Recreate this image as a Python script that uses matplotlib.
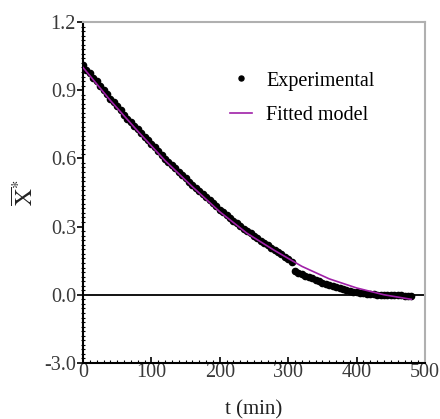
import matplotlib
matplotlib.use("Agg")
import matplotlib.pyplot as plt
from matplotlib.ticker import MultipleLocator

plt.rcParams['font.family'] = ['Liberation Serif', 'DejaVu Serif']
plt.rcParams['mathtext.fontset'] = 'stix'

# Experimental data (t in min, dimensionless X*)
t_exp = list(range(0, 485, 5))
x_exp = [1.01, 0.99, 0.975, 0.955, 0.94, 0.92, 0.90, 0.885, 0.862, 0.848,
         0.83, 0.815, 0.79, 0.772, 0.76, 0.742, 0.728, 0.71, 0.695, 0.68,
         0.665, 0.648, 0.632, 0.615, 0.598, 0.585, 0.57, 0.556, 0.54, 0.528,
         0.512, 0.498, 0.485, 0.47, 0.455, 0.442, 0.43, 0.415, 0.402, 0.39,
         0.375, 0.362, 0.35, 0.338, 0.325, 0.315, 0.302, 0.29, 0.28, 0.27,
         0.258, 0.248, 0.238, 0.228, 0.218, 0.205, 0.198, 0.188, 0.178, 0.168,
         0.158, 0.145, 0.105, 0.095, 0.09, 0.083, 0.078, 0.072, 0.066, 0.06,
         0.054, 0.049, 0.044, 0.039, 0.034, 0.029, 0.025, 0.021, 0.017, 0.014,
         0.011, 0.009, 0.007, 0.005, 0.003, 0.002, 0.001, 0.0, -0.001, -0.001,
         -0.002, -0.002, -0.003, -0.003, -0.004, -0.004, -0.005]

# Fitted model
t_mod = [0, 40, 80, 120, 160, 200, 240, 280, 320, 360, 400, 440, 480]
x_mod = [1.00, 0.855, 0.72, 0.59, 0.475, 0.365, 0.27, 0.195, 0.125, 0.07, 0.03, 0.0, -0.02]

y_ticks = [-0.3, 0.0, 0.3, 0.6, 0.9, 1.2]
y_tick_labels = ['-3.0', '0.0', '0.3', '0.6', '0.9', '1.2']
x_ticks = [0, 100, 200, 300, 400, 500]

fig = plt.figure(figsize=(4.4, 4.19), dpi=100)
ax = fig.add_axes([0.1886, 0.1337, 0.7774, 0.8138])

ax.axhline(0, color='black', lw=1.3, zorder=1)
ax.plot(t_exp, x_exp, 'o', color='black', ms=4.5, label='Experimental', zorder=2)
ax.plot(t_mod, x_mod, '-', color='#a020a8', lw=1.2, label='Fitted model', zorder=3)

ax.set_xlim(0, 500)
ax.set_ylim(-0.3, 1.2)
ax.set_xticks(x_ticks)
ax.set_yticks(y_ticks)
ax.set_yticklabels(y_tick_labels)
ax.xaxis.set_minor_locator(MultipleLocator(10))
ax.yaxis.set_minor_locator(MultipleLocator(0.02))

ax.tick_params(axis='y', which='major', direction='out', length=4, width=1.2,
               labelsize=14.5, labelcolor='#3a3a3a', pad=1)
ax.tick_params(axis='y', which='minor', direction='inout', length=3, width=0.8)
ax.tick_params(axis='x', which='major', direction='in', length=4, width=1.2,
               labelsize=14.5, labelcolor='#3a3a3a', pad=0)
ax.tick_params(axis='x', which='minor', direction='in', length=2.5, width=0.8)

for s in ['left', 'bottom']:
    ax.spines[s].set_color('black')
    ax.spines[s].set_linewidth(1.5)
for s in ['top', 'right']:
    ax.spines[s].set_color('#b0b0b0')
    ax.spines[s].set_linewidth(1.5)

ax.set_xlabel('t (min)', fontsize=15, labelpad=13, color='#222222')
ax.set_ylabel(r'$\overline{\mathrm{X}}^{*}$', fontsize=17, labelpad=4, color='#222222')

ax.legend(loc='upper left', bbox_to_anchor=(0.43, 0.855), frameon=False, fontsize=14.5,
          borderaxespad=0, borderpad=0, markerscale=0.8,
          handlelength=1.1, handletextpad=0.7, labelspacing=0.75)

fig.savefig('out.png', dpi=100)
